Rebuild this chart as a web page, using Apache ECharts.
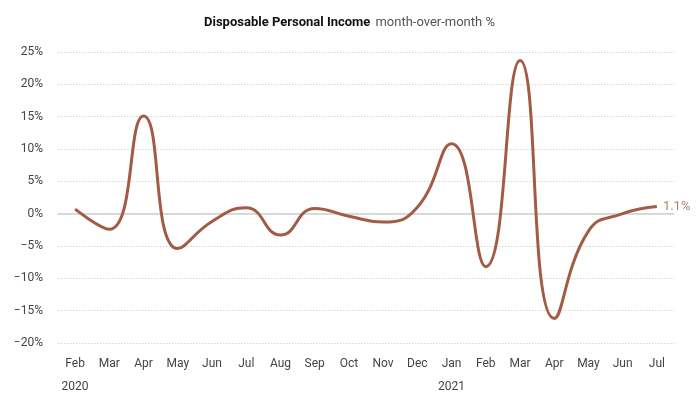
<!DOCTYPE html>
<html>
<head>
<meta charset="utf-8">
<script src="https://cdn.jsdelivr.net/npm/echarts@6/dist/echarts.min.js"></script>
<style>
  html, body { margin: 0; padding: 0; background: #fff; }
  #chart { width: 699px; height: 399px; }
</style>
</head>
<body>
<div id="chart"></div>
<script>
  // months Feb 2020 - Jul 2021
  var months = ['Feb', 'Mar', 'Apr', 'May', 'Jun', 'Jul', 'Aug', 'Sep', 'Oct', 'Nov', 'Dec',
                'Jan', 'Feb', 'Mar', 'Apr', 'May', 'Jun', 'Jul']
  var years = ['2020', '', '', '', '', '', '', '', '', '', '', '2021', '', '', '', '', '', '']
  var income = [0.7, -2.4, 15.1, -5.4, -1.2, 0.9, -3.3, 0.8, -0.4, -1.3, 1.0,
                10.8, -8.2, 23.7, -16.2, -2.7, 0.0, 1.1]
  var lastLabel = '1.1%'

  var font = 'Roboto, sans-serif'
  var myChart = echarts.init(document.getElementById('chart'))
  myChart.setOption({
    animation: false,
    title: {
      left: 'center',
      top: 9,
      text: '{b|Disposable Personal Income} {n|month-over-month %}',
      textStyle: {
        rich: {
          b: { fontFamily: font, fontWeight: 'bold', fontSize: 13, color: '#111' },
          n: { fontFamily: font, fontWeight: 'normal', fontSize: 13, color: '#555' }
        }
      }
    },
    grid: {
      left: 58,
      right: 25,
      top: 52,
      bottom: 56
    },
    xAxis: {
      type: 'category',
      data: months,
      axisLine: { show: true, onZero: true, lineStyle: { color: '#cfcfcf', width: 1.5 } },
      axisTick: { show: false },
      axisLabel: {
        margin: 9,
        interval: 0,
        color: '#444',
        fontFamily: font,
        fontSize: 12,
        lineHeight: 23,
        formatter: function (v, i) {
          return years[i] ? v + '\n' + years[i] : v
        }
      }
    },
    yAxis: {
      type: 'value',
      min: -20,
      max: 25,
      interval: 5,
      axisLine: { show: false },
      axisTick: { show: false },
      splitLine: { lineStyle: { color: '#d6d6d6', type: [1.5, 1.5], width: 1 } },
      axisLabel: {
        margin: 15,
        color: '#444',
        fontFamily: font,
        fontSize: 12,
        formatter: function (v) {
          return (v < 0 ? '\u2212' + (-v) : v) + '%'
        }
      }
    },
    series: [{
      type: 'line',
      data: income,
      smooth: 0.5,
      symbol: 'none',
      lineStyle: { color: '#a25c45', width: 3 },
      endLabel: {
        show: true,
        formatter: lastLabel,
        color: '#b0826f',
        fontFamily: font,
        fontSize: 13,
        distance: 6
      }
    }]
  })
</script>
</body>
</html>
